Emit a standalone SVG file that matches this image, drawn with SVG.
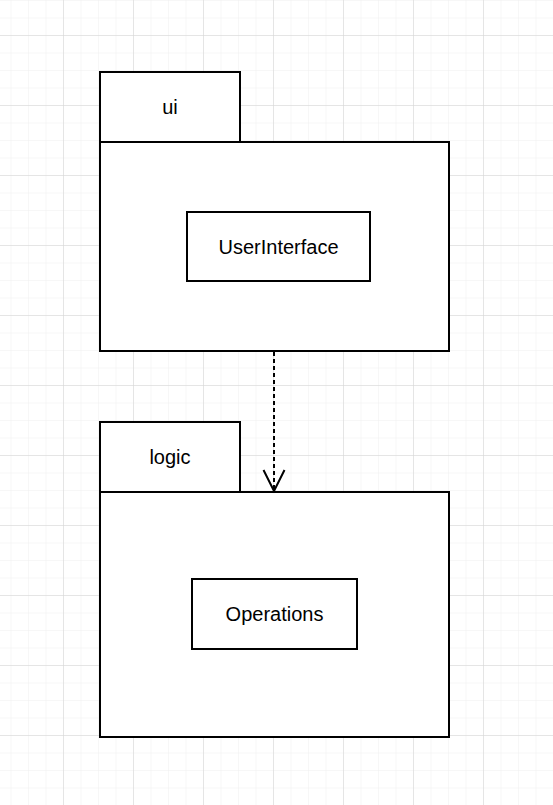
<svg xmlns="http://www.w3.org/2000/svg" width="553" height="805" viewBox="0 0 553 805">
<defs>
<pattern id="minor" x="-7" y="0" width="17.5" height="17.5" patternUnits="userSpaceOnUse">
<path d="M0 0H17.5M0 0V17.5" fill="none" stroke="#f0f0f0" stroke-width="1"/>
</pattern>
<pattern id="major" x="-7" y="-35" width="70" height="70" patternUnits="userSpaceOnUse">
<path d="M0 0H70M0 0V70" fill="none" stroke="#d4d4d4" stroke-width="1"/>
</pattern>
<style>
.box{fill:#ffffff;stroke:#000000;stroke-width:2}
.lbl{font-family:"Liberation Sans",Arial,sans-serif;font-size:20px;fill:#000000;text-anchor:middle;dominant-baseline:central}
.edge{fill:none;stroke:#000000;stroke-width:2}
</style>
</defs>
<rect width="553" height="805" fill="#ffffff"/>
<rect width="553" height="805" fill="url(#minor)"/>
<rect width="553" height="805" fill="url(#major)"/>
<g id="ui">
<rect class="box" x="100" y="72" width="140" height="70"/>
<rect class="box" x="100" y="142" width="349" height="209"/>
<text class="lbl" x="170" y="107">ui</text>
</g>
<g id="UserInterface">
<rect class="box" x="187" y="212" width="183" height="69"/>
<text class="lbl" x="278.5" y="247">UserInterface</text>
</g>
<g id="logic">
<rect class="box" x="100" y="422" width="140" height="70"/>
<rect class="box" x="100" y="492" width="349" height="245"/>
<text class="lbl" x="170" y="457">logic</text>
</g>
<g id="Operations">
<rect class="box" x="192" y="579" width="165" height="70"/>
<text class="lbl" x="274.5" y="614">Operations</text>
</g>
<g id="connectors">
<path class="edge" d="M274 352V490" stroke-dasharray="4 3"/>
<path class="edge" d="M263.5 470L274 491L284.5 470"/>
</g>
</svg>
